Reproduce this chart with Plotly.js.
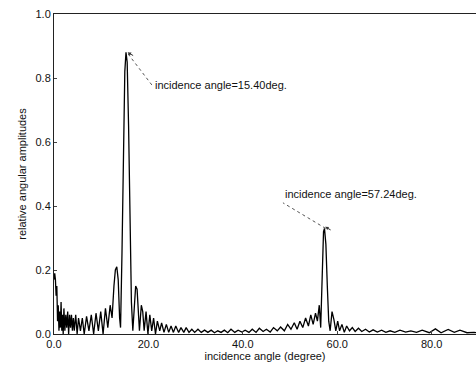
<!DOCTYPE html>
<html><head><meta charset="utf-8">
<script src="https://cdn.plot.ly/plotly-3.0.1.min.js"></script>
<style>html,body{margin:0;padding:0;background:#fff}</style>
</head><body><div id="chart" style="width:476px;height:366px"></div>
<script>
const angle = [0,0.15,0.3,0.45,0.6,0.75,0.9,1.05,1.2,1.35,1.5,1.65,1.8,1.95,2.1,2.3,2.5,2.7,2.9,3.1,3.3,3.5,3.7,3.9,4.1,4.3,4.6,4.9,5.2,5.6,6.0,6.4,6.9,7.4,7.9,8.4,8.9,9.4,9.9,10.4,10.9,11.4,11.9,12.3,12.7,13.0,13.3,13.6,13.9,14.1,14.4,14.7,15.0,15.25,15.5,15.8,16.1,16.4,16.7,17.0,17.3,17.6,17.9,18.1,18.5,18.8,19.1,19.5,19.9,20.3,20.7,21.1,21.5,21.9,22.4,22.8,23.3,23.8,24.3,24.8,25.3,25.8,26.4,26.9,27.5,28.0,28.6,29.2,29.8,30.5,31.2,31.9,32.6,33.3,34.0,34.7,35.4,36.1,36.8,37.5,38.3,39.0,39.8,40.5,41.3,42.0,42.8,43.5,44.3,45.0,45.8,46.5,47.3,48.0,48.8,49.5,50.2,50.9,51.5,52.1,52.7,53.3,53.9,54.4,54.9,55.4,55.8,56.2,56.5,56.8,57.1,57.3,57.6,57.9,58.2,58.5,58.9,59.3,59.7,60.1,60.5,61.0,61.5,62.0,62.6,63.2,63.8,64.5,65.2,66.0,66.8,67.6,68.5,69.4,70.3,71.2,72.2,73.3,74.5,75.6,76.8,78.0,79.5,80.8,82.0,83.5,84.8,86.0,87.5,89.0,90.0];
const amplitude = [0.17,0.19,0.17,0.12,0.15,0.04,0.09,0.01,0.07,0.02,0.10,0.01,0.06,0.0,0.08,0.01,0.06,0.02,0.07,0.0,0.06,0.02,0.06,0.01,0.05,0.01,0.06,0.0,0.05,0.01,0.05,0.0,0.055,0.01,0.06,0.0,0.065,0.01,0.07,0.0,0.08,0.02,0.09,0.05,0.15,0.2,0.21,0.17,0.05,0.02,0.25,0.6,0.82,0.88,0.85,0.65,0.35,0.1,0.01,0.08,0.15,0.14,0.06,0.01,0.09,0.07,0.01,0.07,0.0,0.06,0.01,0.05,0.0,0.04,0.01,0.035,0.005,0.03,0.005,0.025,0.005,0.025,0.005,0.02,0.005,0.02,0.005,0.015,0.005,0.015,0.005,0.012,0.005,0.012,0.004,0.01,0.005,0.012,0.004,0.015,0.005,0.012,0.006,0.012,0.005,0.015,0.005,0.018,0.008,0.015,0.006,0.02,0.01,0.022,0.01,0.03,0.015,0.035,0.015,0.04,0.02,0.05,0.025,0.06,0.03,0.065,0.04,0.09,0.02,0.2,0.32,0.33,0.28,0.15,0.04,0.01,0.07,0.045,0.01,0.04,0.01,0.03,0.005,0.025,0.01,0.02,0.008,0.018,0.008,0.015,0.006,0.013,0.006,0.012,0.005,0.01,0.005,0.012,0.006,0.01,0.005,0.012,0.004,0.016,0.004,0.014,0.005,0.012,0.004,0.005,0.004];
const peakAngles = [15.40, 57.24];
const peakValues = [0.88, 0.335];
const peakLabels = ['incidence angle=15.40deg.', 'incidence angle=57.24deg.'];
const labelPos = [[20.9, 0.775], [48.5, 0.41]];
const xTicks = [0, 20, 40, 60, 80];
const xTickText = ['0.0', '20.0', '40.0', '60.0', '80.0'];
const yTicks = [0, 0.2, 0.4, 0.6, 0.8, 1.0];
const yTickText = ['0.0', '0.2', '0.4', '0.6', '0.8', '1.0'];

const font = {family: 'Liberation Sans, Arial, sans-serif', size: 11, color: '#111'};
const shapes = peakAngles.map((a, i) => ({
  type: 'line', xref: 'x', yref: 'y',
  x0: a + 0.3, y0: peakValues[i] - 0.005, x1: labelPos[i][0], y1: labelPos[i][1],
  line: {color: '#555', width: 1, dash: 'dot'}
}));
const annotations = [];
peakLabels.forEach((t, i) => {
  annotations.push({x: labelPos[i][0], y: labelPos[i][1], xref: 'x', yref: 'y', text: t,
    showarrow: false, xanchor: 'left', yanchor: i === 0 ? 'middle' : 'bottom', yshift: i === 0 ? 1 : 1, font: font});
  annotations.push({x: peakAngles[i] + 0.2, y: peakValues[i], xref: 'x', yref: 'y', text: '',
    showarrow: true, arrowhead: 2, arrowsize: 0.7, arrowwidth: 1, arrowcolor: '#333', ax: 7, ay: 4});
});

Plotly.newPlot('chart', [{
  x: angle, y: amplitude, type: 'scatter', mode: 'lines',
  line: {color: '#000', width: 1.3}
}], {
  width: 476, height: 366,
  margin: {l: 54, r: 0, t: 14, b: 32},
  paper_bgcolor: '#fff', plot_bgcolor: '#fff',
  showlegend: false, font: font,
  xaxis: {range: [0, 89.4], tickvals: xTicks, ticktext: xTickText, ticks: 'inside', ticklen: 3,
    showgrid: false, zeroline: false, showline: true, linecolor: '#222', linewidth: 1, mirror: true,
    automargin: false, tickfont: font,
    title: {text: 'incidence angle (degree)', font: font, standoff: 0}},
  yaxis: {range: [0, 1.0], tickvals: yTicks, ticktext: yTickText, ticks: 'inside', ticklen: 3,
    showgrid: false, zeroline: false, showline: true, linecolor: '#222', linewidth: 1, mirror: false,
    automargin: false, tickfont: font,
    title: {text: 'relative angular amplitudes', font: font, standoff: 6}},
  shapes: shapes, annotations: annotations
}, {staticPlot: true});
</script></body></html>
